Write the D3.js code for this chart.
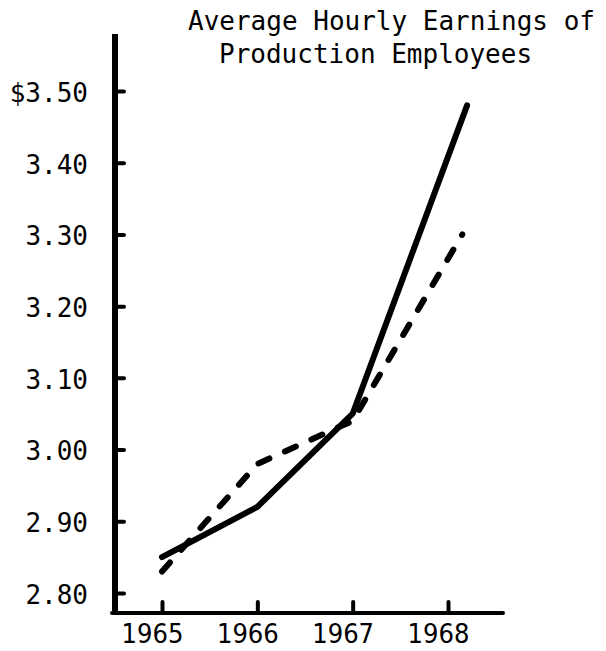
<!DOCTYPE html>
<html>
<head>
<meta charset="utf-8">
<script src="https://cdn.jsdelivr.net/npm/d3@7"></script>
<style>
  html, body { margin: 0; padding: 0; background: #fff; }
  svg { display: block; }
  .title { font-family: "DejaVu Sans Mono", monospace; font-size: 26px; fill: #000; }
  .yaxis text { font-family: "DejaVu Sans Mono", monospace; font-size: 26px; fill: #000; }
  .xaxis text { font-family: "Liberation Sans Narrow", "DejaVu Sans Condensed", sans-serif; font-size: 27px; fill: #000; }
</style>
</head>
<body>
<script>
// Average hourly earnings of production employees, 1965-1968
const years = [1965, 1966, 1967, 1968];
const yearLabels = ["1965", "1966", "1967", "1968"];
const yTicks = [2.80, 2.90, 3.00, 3.10, 3.20, 3.30, 3.40, 3.50];
const yTickLabels = ["2.80", "2.90", "3.00", "3.10", "3.20", "3.30", "3.40", "$3.50"];

// solid series
const solidYears = [1965, 1966, 1967, 1968.2];
const solidValues = [2.85, 2.92, 3.05, 3.48];
// dashed series
const dashedYears = [1965, 1966, 1967, 1968.15];
const dashedValues = [2.83, 2.98, 3.04, 3.30];

const W = 606, H = 651;
const svg = d3.select("body").append("svg").attr("width", W).attr("height", H);

const x = d3.scaleLinear().domain([1965, 1968]).range([162, 448]);
const y = d3.scaleLinear().domain([2.80, 3.50]).range([593, 91]);

const axisX = 115, axisTop = 34, axisBottomY = 613, axisRight = 503;

// title
const title = svg.append("g").attr("class", "title");
title.append("text").attr("x", 188).attr("y", 30).text("Average Hourly Earnings of");
title.append("text").attr("x", 219).attr("y", 63).text("Production Employees");

// y axis: ticks point inward, labels to the left
const yAxis = d3.axisLeft(y)
  .tickValues(yTicks)
  .tickFormat((d, i) => yTickLabels[i])
  .tickSizeInner(-9)
  .tickSizeOuter(0)
  .tickPadding(27);
const gy = svg.append("g").attr("class", "yaxis")
  .attr("transform", `translate(${axisX},0)`)
  .call(yAxis);
gy.select(".domain").remove();
gy.selectAll(".tick line").attr("stroke", "#000").attr("stroke-width", 4).attr("stroke-linecap", "round");
gy.selectAll(".tick text").attr("dy", "0.4em");

// x axis: ticks point up
const xAxis = d3.axisBottom(x)
  .tickValues(years)
  .tickFormat((d, i) => yearLabels[i])
  .tickSizeInner(-11)
  .tickSizeOuter(0)
  .tickPadding(11);
const gx = svg.append("g").attr("class", "xaxis")
  .attr("transform", `translate(0,${axisBottomY})`)
  .call(xAxis);
gx.select(".domain").remove();
gx.selectAll(".tick line").attr("stroke", "#000").attr("stroke-width", 4).attr("stroke-linecap", "round");
gx.selectAll(".tick text").attr("dx", -10);

// axis lines
svg.append("line")
  .attr("x1", axisX).attr("x2", axisX)
  .attr("y1", axisTop).attr("y2", axisBottomY + 2)
  .attr("stroke", "#000").attr("stroke-width", 6);
svg.append("line")
  .attr("x1", axisX - 3).attr("x2", axisRight)
  .attr("y1", axisBottomY).attr("y2", axisBottomY)
  .attr("stroke", "#000").attr("stroke-width", 4).attr("stroke-linecap", "round");

const line = d3.line().x(d => x(d[0])).y(d => y(d[1]));

svg.append("path")
  .datum(dashedYears.map((d, i) => [d, dashedValues[i]]))
  .attr("d", line)
  .attr("fill", "none")
  .attr("stroke", "#000")
  .attr("stroke-width", 6)
  .attr("stroke-linecap", "round")
  .attr("stroke-linejoin", "round")
  .attr("stroke-dasharray", "12,17");

svg.append("path")
  .datum(solidYears.map((d, i) => [d, solidValues[i]]))
  .attr("d", line)
  .attr("fill", "none")
  .attr("stroke", "#000")
  .attr("stroke-width", 6)
  .attr("stroke-linecap", "round")
  .attr("stroke-linejoin", "round");
</script>
</body>
</html>
